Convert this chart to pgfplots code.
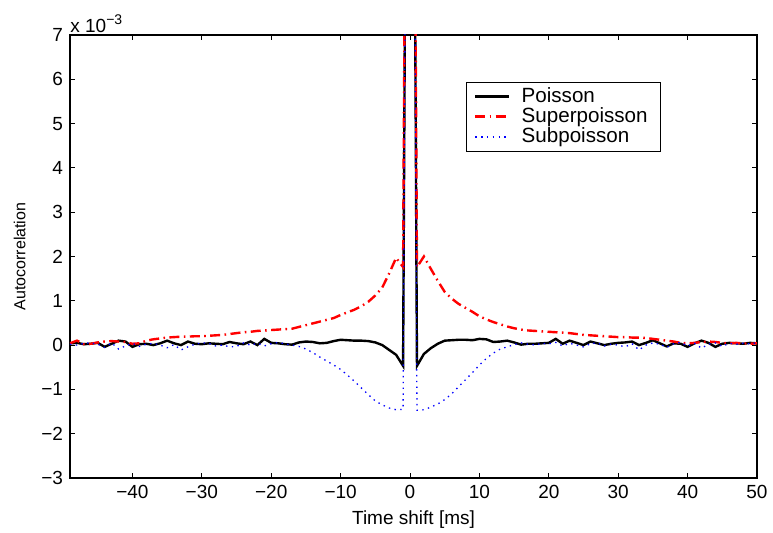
\documentclass[border=0pt]{standalone}
\usepackage{fontspec}
\setmainfont{Liberation Sans}
\usepackage{pgfplots}
\pgfplotsset{compat=1.18}
\usepackage{pgfplotstable}

% autocorrelation, in units of 1e-3
\pgfplotstableread{
x    poi    sup    sub
-49  0.04   0.04   0.02
-48  0.05   0.10   0.00
-47  0.02   0.02   0.04
-46  0.03   0.03   0.05
-45  0.05   0.06   0.02
-44  -0.04  0.08   -0.05
-43  0.03   0.09   0.05
-42  0.10   0.08   -0.09
-41  0.08   0.07   -0.02
-40  -0.04  0.03   0.04
-39  0.02   0.04   -0.03
-38  0.03   0.10   0.02
-37  0.00   0.13   0.04
-36  0.04   0.15   0.00
-35  0.10   0.17   -0.06
-34  0.04   0.18   0.01
-33  0.00   0.19   -0.11
-32  0.08   0.19   -0.04
-31  0.03   0.20   0.02
-30  0.02   0.20   0.05
-29  0.04   0.21   0.04
-28  0.03   0.22   -0.02
-27  0.02   0.23   0.00
-26  0.07   0.25   -0.04
-25  0.04   0.27   -0.03
-24  0.02   0.29   0.05
-23  0.08   0.30   0.00
-22  0.00   0.32   0.04
-21  0.14   0.33   -0.02
-20  0.05   0.34   0.03
-19  0.04   0.35   0.06
-18  0.02   0.36   0.03
-17  0.01   0.37   0.00
-16  0.06   0.41   -0.03
-15  0.08   0.45   -0.09
-14  0.07   0.49   -0.17
-13  0.04   0.53   -0.27
-12  0.05   0.57   -0.36
-11  0.09   0.61   -0.45
-10  0.12   0.68   -0.55
-9   0.11   0.74   -0.68
-8   0.10   0.80   -0.82
-7   0.10   0.88   -0.97
-6   0.09   0.98   -1.12
-5   0.06   1.12   -1.26
-4   0.00   1.30   -1.35
-3   -0.11  1.62   -1.42
-2   -0.22  1.97   -1.46
-1   -0.47  1.76   -1.45
0    30     30     30
1    -0.47  1.76   -1.47
2    -0.20  2.00   -1.46
3    -0.07  1.72   -1.40
4    0.03   1.45   -1.33
5    0.10   1.20   -1.23
6    0.11   1.05   -1.10
7    0.12   0.93   -0.94
8    0.12   0.84   -0.78
9    0.11   0.75   -0.62
10   0.14   0.65   -0.45
11   0.13   0.58   -0.30
12   0.07   0.52   -0.18
13   0.08   0.47   -0.09
14   0.10   0.42   -0.04
15   0.06   0.38   0.01
16   0.01   0.35   0.05
17   0.03   0.33   0.02
18   0.03   0.32   0.00
19   0.04   0.31   0.04
20   0.05   0.30   0.03
21   0.14   0.29   0.06
22   0.03   0.28   -0.02
23   0.10   0.27   0.04
24   0.05   0.25   0.00
25   0.00   0.23   -0.04
26   0.08   0.22   0.03
27   0.04   0.21   0.05
28   0.00   0.20   -0.02
29   0.03   0.19   0.02
30   0.05   0.18   0.00
31   0.06   0.18   -0.04
32   0.08   0.17   0.03
33   0.00   0.17   -0.11
34   0.05   0.16   0.00
35   0.11   0.14   0.05
36   0.04   0.12   0.02
37   -0.03  0.10   -0.05
38   0.04   0.08   0.03
39   0.03   0.05   0.06
40   -0.04  0.04   -0.02
41   0.04   0.05   0.04
42   0.10   0.07   -0.07
43   0.05   0.08   0.02
44   -0.04  0.07   0.05
45   0.03   0.05   -0.03
46   0.05   0.04   0.04
47   0.04   0.05   0.02
48   0.03   0.04   0.04
49   0.05   0.03   0.03
50   0.04   0.04   0.05
}\acdata

\begin{document}
\begin{tikzpicture}
\begin{axis}[
    scale only axis,
    width=343.5pt, height=221.5pt,
    xmin=-49, xmax=50,
    ymin=-3, ymax=7,
    xtick={-40,-30,-20,-10,0,10,20,30,40,50},
    xticklabels={−40,−30,−20,−10,0,10,20,30,40,50},
    ytick={-3,-2,-1,0,1,2,3,4,5,6,7},
    yticklabels={−3,−2,−1,0,1,2,3,4,5,6,7},
    tick align=inside,
    tick pos=both,
    major tick length=2.5pt,
    tick style={black, line width=0.4pt},
    axis line style={line width=0.6pt},
    ticklabel style={font=\fontsize{9.5}{11}\selectfont},
    xlabel={Time shift [ms]},
    ylabel={Autocorrelation},
    xlabel style={font=\fontsize{9.5}{11}\selectfont, yshift=1pt},
    ylabel style={font=\fontsize{8}{10}\selectfont, yshift=1pt},
    legend style={at={(0.576,0.894)}, anchor=north west, draw=black,
        font=\fontsize{10.3}{10.3}\selectfont, row sep=-2.8pt,
        column sep=3pt,
        inner xsep=4pt, inner ysep=0.5pt,
        nodes={inner xsep=2.5pt}},
    legend cell align=left,
]
\addplot[black, line width=1.2pt] table[x=x, y=poi] {\acdata};
\addlegendentry{Poisson}
\addplot[red, line width=1.2pt, dash pattern=on 5pt off 2.2pt on 0.8pt off 2.2pt] table[x=x, y=sup] {\acdata};
\addlegendentry{Superpoisson}
\addplot[blue, line width=0.65pt, dash pattern=on 0.7pt off 2.2pt] table[x=x, y=sub] {\acdata};
\addlegendentry{Subpoisson}
\end{axis}
\node[anchor=south west, font=\fontsize{9.5}{11}\selectfont, inner sep=1pt, xshift=-1pt]
    at (current axis.north west) {x 10\textsuperscript{\fontsize{7}{8}\selectfont −3}};
\pgfresetboundingbox
\path[use as bounding box] ([shift={(-35pt,-27.5pt)}]current axis.south west)
    rectangle ([shift={(8pt,17.5pt)}]current axis.north east);
\end{tikzpicture}
\end{document}
